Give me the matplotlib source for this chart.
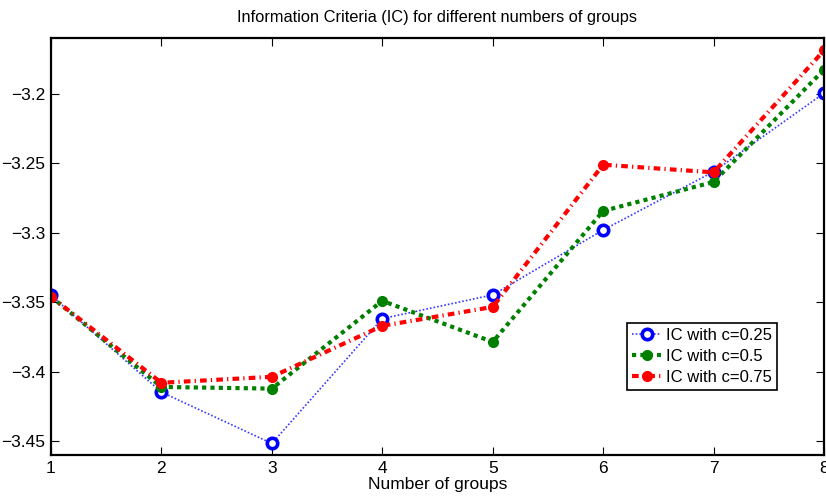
import matplotlib
matplotlib.use("Agg")
import matplotlib.pyplot as plt

plt.rcParams["font.family"] = ["Liberation Sans", "DejaVu Sans"]

groups = [1, 2, 3, 4, 5, 6, 7, 8]
ic_025 = [-3.3451, -3.4147, -3.4517, -3.3618, -3.3447, -3.2980, -3.2560, -3.1995]
ic_050 = [-3.3460, -3.4110, -3.4122, -3.3490, -3.3786, -3.2843, -3.2634, -3.1826]
ic_075 = [-3.3460, -3.4080, -3.4037, -3.3670, -3.3534, -3.2510, -3.2565, -3.1687]
y_ticks = [-3.45, -3.4, -3.35, -3.3, -3.25, -3.2]

fig = plt.figure(figsize=(8.26, 5.04), dpi=100)
ax = fig.add_axes([0.0617, 0.0972, 0.9359, 0.8268])

ax.plot(groups, ic_025, color="#3a3aff", ls=(0, (1, 1.2)), lw=1.2, marker="o", ms=7.5,
        mfc="white", mec="blue", mew=2.6, label="IC with c=0.25")
ax.plot(groups, ic_050, color="green", ls=(0, (1, 1)), lw=3, marker="o", ms=7,
        mfc="green", mec="green", label="IC with c=0.5")
ax.plot(groups, ic_075, color="red", ls=(0, (1.6, 1.0, 0.3, 1.0)), lw=3, marker="o", ms=7,
        mfc="red", mec="red", label="IC with c=0.75")

ax.set_xlim(1, 8)
ax.set_ylim(-3.46, -3.16)
ax.set_xticks(groups)
ax.set_yticks(y_ticks)
ax.set_yticklabels(["\u22123.45", "\u22123.4", "\u22123.35", "\u22123.3", "\u22123.25", "\u22123.2"])
ax.tick_params(direction="in", top=True, right=True, length=6, labelsize=12.5, pad=4)
for s in ax.spines.values():
    s.set_linewidth(1.6)

ax.set_title("Information Criteria (IC) for different numbers of groups", fontsize=11.8, pad=12)
ax.set_xlabel("Number of groups", fontsize=12.5, labelpad=1)

leg = ax.legend(loc="upper left", bbox_to_anchor=(0.735, 0.337), fontsize=12,
                fancybox=False, framealpha=1, edgecolor="black",
                handlelength=1.7, handletextpad=0.3, borderpad=0.3, labelspacing=0.35)
leg.get_frame().set_linewidth(1.2)

fig.savefig("out.png", dpi=100)
